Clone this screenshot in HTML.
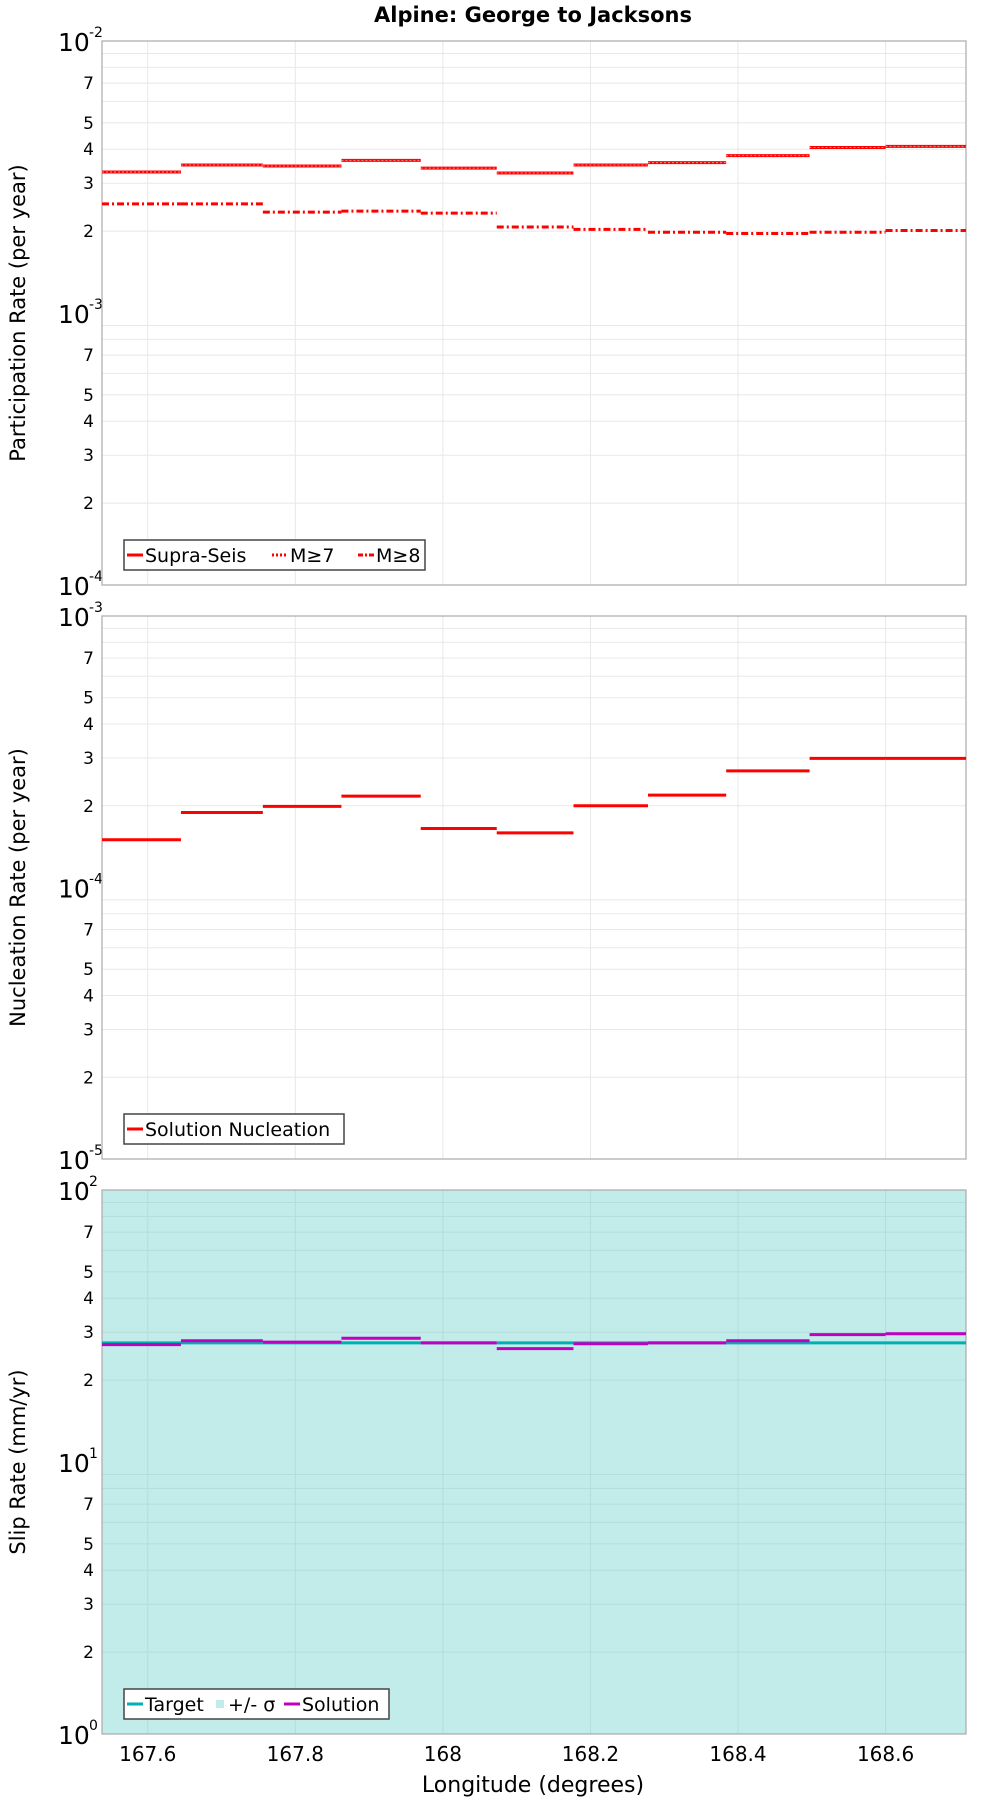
<!DOCTYPE html>
<html><head><meta charset="utf-8"><style>
body{margin:0;background:#fff;}
svg text{font-family:"DejaVu Sans","Liberation Sans",sans-serif;fill:#000;}
</style></head><body>
<svg id="chart" width="1000" height="1800" viewBox="0 0 1000 1800" xmlns="http://www.w3.org/2000/svg">
<text x="533" y="22" text-anchor="middle" font-size="21" font-weight="bold">Alpine: George to Jacksons</text>
</svg>
<script>
const binEdges=[167.538,167.645,167.756,167.8625,167.970,168.073,168.177,168.278,168.384,168.497,168.600,168.709];
const supraSeis=[3.30e-3,3.50e-3,3.47e-3,3.64e-3,3.41e-3,3.27e-3,3.50e-3,3.57e-3,3.79e-3,4.06e-3,4.10e-3];
const m7=[3.30e-3,3.50e-3,3.47e-3,3.64e-3,3.41e-3,3.27e-3,3.50e-3,3.57e-3,3.79e-3,4.06e-3,4.10e-3];
const m8=[2.52e-3,2.52e-3,2.35e-3,2.37e-3,2.33e-3,2.07e-3,2.03e-3,1.98e-3,1.96e-3,1.98e-3,2.01e-3];
const nucleation=[1.50e-4,1.89e-4,1.99e-4,2.17e-4,1.65e-4,1.59e-4,2.00e-4,2.19e-4,2.69e-4,2.99e-4,2.99e-4];
const targetSlip=[27.4,27.4,27.4,27.4,27.4,27.4,27.4,27.4,27.4,27.4,27.4];
const solutionSlip=[27.0,27.9,27.6,28.5,27.4,26.1,27.2,27.4,27.9,29.4,29.6];
const xTicks=[167.6,167.8,168.0,168.2,168.4,168.6];
const xTickLabels=["167.6","167.8","168","168.2","168.4","168.6"];

const NS="http://www.w3.org/2000/svg";
const svg=document.getElementById('chart');
const L=102,R=966,X0=167.538,X1=168.709;
function xs(v){return L+(v-X0)/(X1-X0)*(R-L);}
function mk(tag,attrs,parent){const e=document.createElementNS(NS,tag);for(const k in attrs)e.setAttribute(k,attrs[k]);(parent||svg).appendChild(e);return e;}

function panel(top,bot,decLo,decHi,title,bg,name){
  const g=mk('g',{});
  
  
  const ys=v=>bot-(Math.log10(v)-decLo)/(decHi-decLo)*(bot-top);
  const bgr=mk('rect',{x:L,y:top,width:R-L,height:bot-top,fill:bg},g);
  
  
  for(let d=decLo;d<decHi;d++){for(let m=1;m<10;m++){const v=m*Math.pow(10,d);const y=ys(v);
    if(m>1){const gl=mk('line',{x1:L,x2:R,y1:y,y2:y,stroke:bg==='#fff'?'#e8e8e8':'#b4dcda','stroke-width':1},g);
      
      }
    if([2,3,4,5,7].includes(m)){const t=mk('text',{x:94,y:y+6,'text-anchor':'end','font-size':17},g);t.textContent=m;
      
      }
  }}
  for(let d=decLo;d<=decHi;d++){const y=ys(Math.pow(10,d));
    const t=mk('text',{x:58,y:y+10,'font-size':25},g);t.textContent='10';
    
    
    const s=mk('text',{x:89,y:y-4,'font-size':14},g);s.textContent=String(d);
    
    }
  xTicks.forEach(v=>{const x=xs(v);const gl=mk('line',{x1:x,x2:x,y1:top,y2:bot,stroke:bg==='#fff'?'#e8e8e8':'#b4dcda'},g);
    
    });
  const b=mk('rect',{x:L,y:top,width:R-L,height:bot-top,fill:'none',stroke:'#aaa','stroke-width':1.2},g);
  
  
  const cy=(top+bot)/2;
  const yt=mk('text',{x:0,y:0,'font-size':21,'text-anchor':'middle',transform:`translate(25,${cy}) rotate(-90)`},g);yt.textContent=title;
  
  
  return {g,ys};
}
function steps(p,vals,style,name){
  vals.forEach((v,i)=>{const y=p.ys(v);const a=Object.assign({x1:xs(binEdges[i]),x2:xs(binEdges[i+1]),y1:y,y2:y},style);
    const l=mk('line',a,p.g);
    
    });
}
function legend(p,x,y,w,items,name){
  const lg=mk('g',{},p.g);
  
  
  mk('rect',{x:x,y:y,width:w,height:30,fill:'#fff',stroke:'#444','stroke-width':1.5},lg);
  items.forEach(it=>{
    if(it.box){mk('rect',{x:it.x,y:y+11,width:8,height:8,fill:it.color},lg);}
    else{mk('line',{x1:it.x,x2:it.x+16,y1:y+15,y2:y+15,stroke:it.color,'stroke-width':3,'stroke-dasharray':it.dash||''},lg);}
    const t=mk('text',{x:it.x+(it.box?12:18),y:y+22,'font-size':19},lg);t.textContent=it.label;
    
    
  });
}
const p1=panel(41,585,-4,-2,'Participation Rate (per year)','#fff','participation-panel');
steps(p1,supraSeis,{stroke:'#f00','stroke-width':3},'supra-seis');
steps(p1,m7,{stroke:'#ff8080','stroke-width':1,'stroke-dasharray':'2,2'},'m7');
steps(p1,m8,{stroke:'#f00','stroke-width':3,'stroke-dasharray':'7,3,2,3'},'m8');
legend(p1,124,540,301,[{x:127,color:'#f00',label:'Supra-Seis'},{x:272,color:'#f00',dash:'2,2',label:'M≥7'},{x:358,color:'#f00',dash:'5,2,2,2',label:'M≥8'}],'participation-legend');

const p2=panel(616,1159,-5,-3,'Nucleation Rate (per year)','#fff','nucleation-panel');
steps(p2,nucleation,{stroke:'#f00','stroke-width':3},'nucleation');
legend(p2,124,1114,220,[{x:127,color:'#f00',label:'Solution Nucleation'}],'nucleation-legend');

const p3=panel(1190,1734,0,2,'Slip Rate (mm/yr)','#c2ecea','slip-panel');
steps(p3,targetSlip,{stroke:'#00b0b0','stroke-width':3},'target');
steps(p3,solutionSlip,{stroke:'#c000c0','stroke-width':3},'solution');
legend(p3,124,1689,265,[{x:127,color:'#00b0b0',label:'Target'},{x:216,color:'#c2ecea',box:true,label:'+/- σ'},{x:284,color:'#c000c0',label:'Solution'}],'slip-legend');

xTicks.forEach((v,i)=>{const t=mk('text',{x:xs(v),y:1761,'text-anchor':'middle','font-size':20});t.textContent=xTickLabels[i];
  
  });
const xt=mk('text',{x:533,y:1792,'text-anchor':'middle','font-size':22});xt.textContent='Longitude (degrees)';


</script>
</body></html>
